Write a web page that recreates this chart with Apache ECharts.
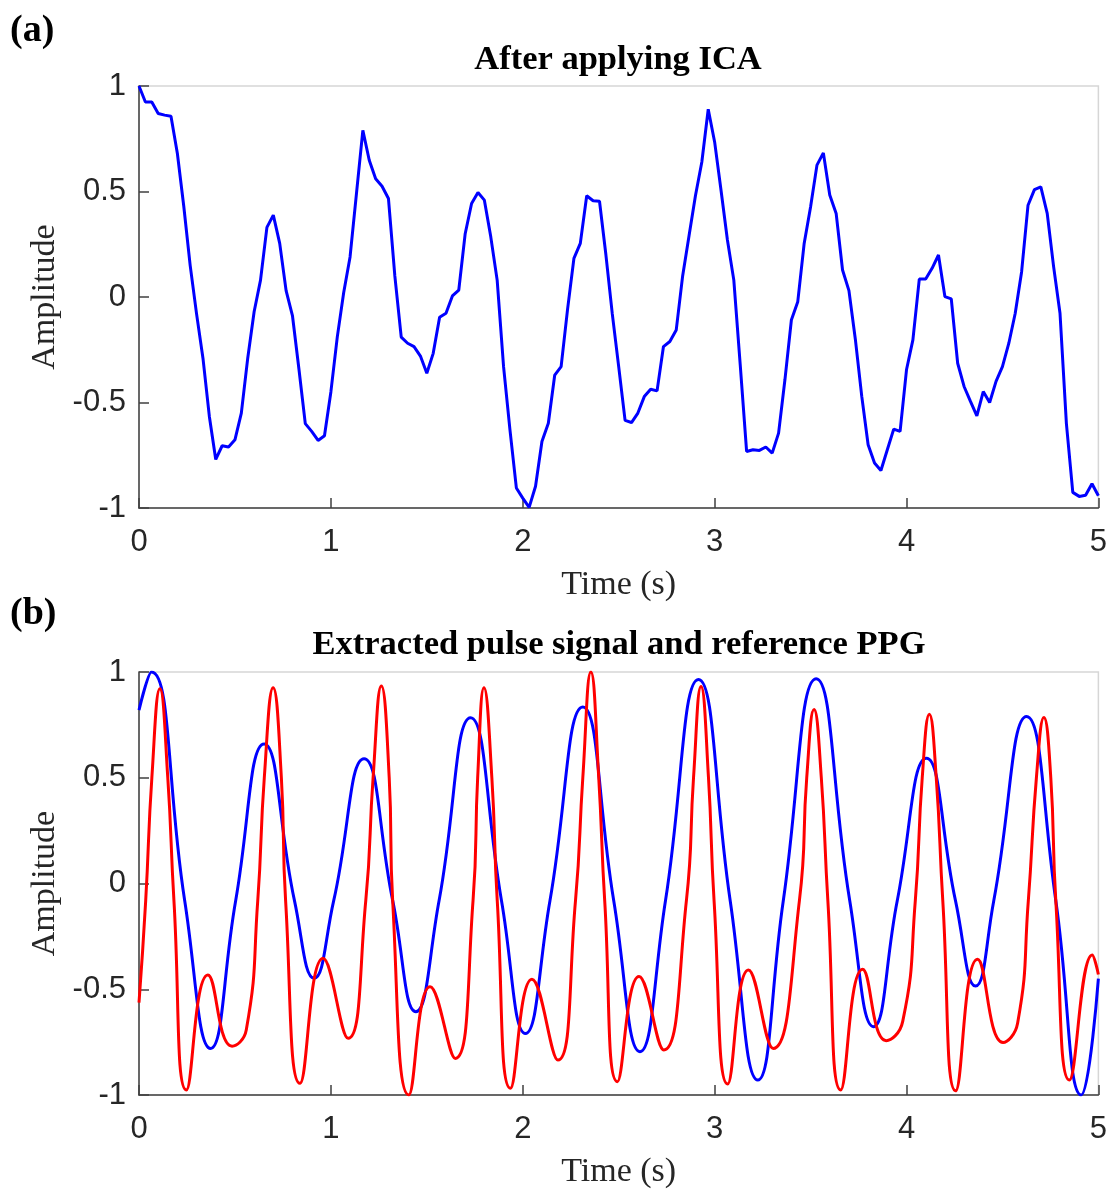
<!DOCTYPE html>
<html><head><meta charset="utf-8">
<script src="https://cdn.jsdelivr.net/npm/echarts/dist/echarts.min.js"></script>
<style>html,body{margin:0;padding:0;background:#fff}#c{width:1110px;height:1190px}</style>
</head><body><div id="c"></div><script>
// Panel (a): ICA output, sampled at 30 Hz from 0 to 5 s
const icaFs = 30;
const icaValues = [
 1.0, 0.924, 0.924, 0.87, 0.862, 0.857, 0.68, 0.43, 0.15, -0.08,
 -0.29, -0.566, -0.77, -0.705, -0.711, -0.677, -0.55, -0.29, -0.07, 0.08,
 0.33, 0.388, 0.254, 0.03, -0.09, -0.34, -0.60, -0.637, -0.68, -0.658,
 -0.45, -0.19, 0.02, 0.19, 0.49, 0.79, 0.648, 0.56, 0.525, 0.467,
 0.1, -0.19, -0.219, -0.235, -0.28, -0.361, -0.267, -0.096, -0.077, 0.005,
 0.033, 0.30, 0.443, 0.495, 0.459, 0.285, 0.08, -0.33, -0.63, -0.905,
 -0.953, -0.997, -0.897, -0.685, -0.598, -0.37, -0.33, -0.06, 0.183, 0.254,
 0.48, 0.456, 0.454, 0.2, -0.08, -0.33, -0.585, -0.595, -0.55, -0.472,
 -0.437, -0.445, -0.235, -0.211, -0.156, 0.1, 0.29, 0.48, 0.64, 0.89,
 0.735, 0.506, 0.27, 0.08, -0.32, -0.732, -0.724, -0.727, -0.711, -0.74,
 -0.645, -0.39, -0.109, -0.022, 0.254, 0.427, 0.625, 0.683, 0.483, 0.396,
 0.128, 0.03, -0.2, -0.47, -0.70, -0.787, -0.822, -0.724, -0.626, -0.637,
 -0.345, -0.203, 0.085, 0.085, 0.136, 0.199, 0.002, -0.009, -0.314, -0.424,
 -0.495, -0.563, -0.448, -0.5, -0.4, -0.33, -0.219, -0.077, 0.12, 0.435,
 0.509, 0.522, 0.396, 0.144, -0.077, -0.6, -0.926, -0.945, -0.94, -0.885,
 -0.942
];

// Panel (b): extracted pulse signal (blue)
const pulseT = [0.000,0.065,0.238,0.373,0.504,0.652,0.810,0.913,1.015,1.173,1.322,1.443,1.564,1.728,1.889,2.014,2.142,2.313,2.474,2.611,2.744,2.916,3.081,3.225,3.358,3.529,3.704,3.828,3.952,4.104,4.255,4.360,4.455,4.626,4.778,4.911,5.000];
const pulseV = [0.82,1.0,-0.08,-0.78,-0.08,0.66,-0.08,-0.448,-0.08,0.59,-0.08,-0.606,-0.08,0.784,-0.08,-0.709,-0.08,0.834,-0.08,-0.795,-0.08,0.964,-0.08,-0.929,-0.08,0.968,-0.08,-0.677,-0.08,0.592,-0.08,-0.485,-0.08,0.79,-0.08,-1.0,-0.45];

// Panel (b): reference PPG (red)
const ppgT = [0.000,0.035,0.067,0.109,0.150,0.182,0.247,0.359,0.485,0.559,0.619,0.653,0.699,0.742,0.764,0.839,0.959,1.090,1.182,1.220,1.263,1.304,1.322,1.406,1.517,1.648,1.741,1.765,1.798,1.839,1.867,1.936,2.048,2.183,2.275,2.313,2.355,2.396,2.427,2.493,2.606,2.735,2.853,2.890,2.929,2.968,2.997,3.068,3.176,3.305,3.442,3.480,3.518,3.556,3.590,3.657,3.771,3.894,3.980,4.046,4.082,4.119,4.155,4.189,4.256,4.370,4.503,4.579,4.635,4.677,4.716,4.752,4.778,4.849,4.968,5.000];
const ppgV = [-0.563,-0.08,0.5,0.921,0.5,-0.08,-0.976,-0.433,-0.769,-0.693,-0.08,0.5,0.926,0.5,-0.08,-0.945,-0.354,-0.732,-0.08,0.5,0.934,0.5,-0.08,-1.0,-0.488,-0.827,-0.08,0.5,0.926,0.5,-0.08,-0.968,-0.453,-0.835,-0.08,0.5,1.0,0.5,-0.08,-0.937,-0.44,-0.787,-0.08,0.5,0.932,0.5,-0.08,-0.948,-0.409,-0.78,-0.08,0.5,0.823,0.5,-0.08,-0.976,-0.406,-0.743,-0.653,-0.08,0.5,0.8,0.5,-0.08,-0.98,-0.358,-0.752,-0.661,-0.08,0.5,0.785,0.5,-0.08,-0.929,-0.338,-0.43];

const xTicks = [0, 5, 1];      // min, max, interval
const yTicks = [-1, 1, 0.5];

const chart = echarts.init(document.getElementById('c'), null, {renderer: 'canvas'});
const axisColor = '#404040';
const labelColor = '#262626';
function xAx(gi) {
  return {
    gridIndex: gi, type: 'value', min: xTicks[0], max: xTicks[1], interval: xTicks[2],
    axisLine: {show: true, onZero: false, lineStyle: {color: axisColor, width: 1.5}},
    axisTick: {show: true, inside: true, length: 10, lineStyle: {color: axisColor, width: 1.5}},
    axisLabel: {fontFamily: 'Liberation Sans', fontSize: 31, color: labelColor, margin: 19},
    splitLine: {show: false},
    name: 'Time (s)', nameLocation: 'middle', nameGap: 60,
    nameTextStyle: {fontFamily: 'Liberation Serif', fontSize: 34, color: labelColor}
  };
}
function yAx(gi) {
  return {
    gridIndex: gi, type: 'value', min: yTicks[0], max: yTicks[1], interval: yTicks[2],
    axisLine: {show: true, onZero: false, lineStyle: {color: axisColor, width: 1.5}},
    axisTick: {show: true, inside: true, length: 10, lineStyle: {color: axisColor, width: 1.5}},
    axisLabel: {fontFamily: 'Liberation Sans', fontSize: 31, color: labelColor, margin: 13},
    splitLine: {show: false},
    name: 'Amplitude', nameLocation: 'middle', nameGap: 75, nameRotate: 90,
    nameTextStyle: {fontFamily: 'Liberation Serif', fontSize: 34, color: labelColor}
  };
}
const zip = (a, b) => a.map((t, i) => [t, b[i]]);
const option = {
  animation: false,
  backgroundColor: '#fff',
  grid: [
    {left: 139, top: 86, width: 960, height: 422, show: true, borderColor: '#d6d6d6', borderWidth: 1.5, backgroundColor: 'transparent'},
    {left: 139, top: 672, width: 960, height: 423, show: true, borderColor: '#d6d6d6', borderWidth: 1.5, backgroundColor: 'transparent'}
  ],
  xAxis: [xAx(0), xAx(1)],
  yAxis: [yAx(0), yAx(1)],
  graphic: [
    {type: 'text', x: 10, y: 31, style: {text: '(a)', font: 'bold 38px "Liberation Serif"', fill: '#000', textVerticalAlign: 'middle'}},
    {type: 'text', x: 618, y: 60, style: {text: 'After applying ICA', font: 'bold 34.5px "Liberation Serif"', fill: '#000', textAlign: 'center', textVerticalAlign: 'middle'}},
    {type: 'text', x: 10, y: 614, style: {text: '(b)', font: 'bold 38px "Liberation Serif"', fill: '#000', textVerticalAlign: 'middle'}},
    {type: 'text', x: 619, y: 645, style: {text: 'Extracted pulse signal and reference PPG', font: 'bold 34.5px "Liberation Serif"', fill: '#000', textAlign: 'center', textVerticalAlign: 'middle'}}
  ],
  series: [
    {type: 'line', xAxisIndex: 0, yAxisIndex: 0, data: icaValues.map((v, k) => [k / icaFs, v]),
     showSymbol: false, lineStyle: {color: '#0000ff', width: 3}, itemStyle: {color: '#0000ff'}},
    {type: 'line', xAxisIndex: 1, yAxisIndex: 1, data: zip(pulseT, pulseV), smooth: 0.5,
     showSymbol: false, lineStyle: {color: '#0000ff', width: 3}, itemStyle: {color: '#0000ff'}},
    {type: 'line', xAxisIndex: 1, yAxisIndex: 1, data: zip(ppgT, ppgV), smooth: 0.5,
     showSymbol: false, lineStyle: {color: '#ff0000', width: 3}, itemStyle: {color: '#ff0000'}}
  ]
};
chart.setOption(option);
</script></body></html>
